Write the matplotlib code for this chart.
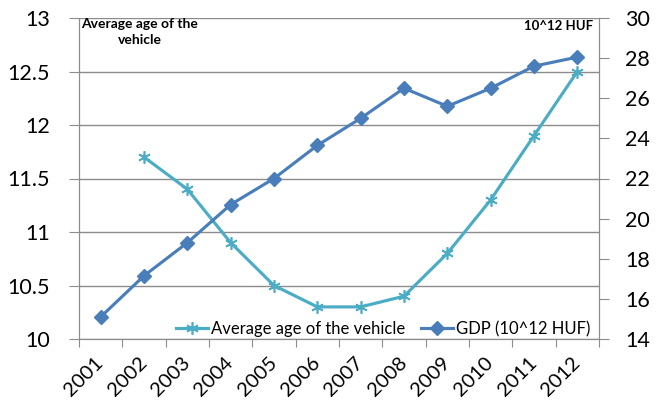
import matplotlib
matplotlib.use("Agg")
import matplotlib.pyplot as plt
import numpy as np

years = ["2001", "2002", "2003", "2004", "2005", "2006", "2007", "2008", "2009", "2010", "2011", "2012"]
gdp = [15.1, 17.15, 18.8, 20.7, 22.0, 23.65, 25.0, 26.5, 25.6, 26.5, 27.6, 28.05]
age_years_idx = [1, 2, 3, 4, 5, 6, 7, 8, 9, 10, 11]
avg_age = [11.7, 11.4, 10.9, 10.5, 10.3, 10.3, 10.4, 10.8, 11.3, 11.9, 12.5]

left_ticks = [10, 10.5, 11, 11.5, 12, 12.5, 13]
left_labels = ["10", "10.5", "11", "11.5", "12", "12.5", "13"]
right_ticks = [14, 16, 18, 20, 22, 24, 26, 28, 30]

plt.rcParams['font.family'] = ['Lato', 'DejaVu Sans']

BLUE = "#4A7EBB"
CYAN = "#4BACC6"
GRID = "#8C8C8C"

fig = plt.figure(figsize=(6.59, 4.05), dpi=100)
ax = fig.add_axes([79/659, 1-339/405, 520/659, 321/405])
ax2 = ax.twinx()

n = len(years)
ax.set_xlim(0, n)
ax.set_ylim(10, 13)
ax2.set_ylim(14, 30)

centers = np.arange(n) + 0.5
l1, = ax.plot(centers[age_years_idx], avg_age, color=CYAN, lw=2.25,
              marker=(6, 2, 0), ms=9, mew=1.2, mec=CYAN, zorder=3,
              label="Average age of the vehicle")
l2, = ax2.plot(centers, gdp, color=BLUE, lw=2.25, marker='D', ms=7,
               mfc=BLUE, mec=BLUE, zorder=3, label="GDP (10^12 HUF)")

ax.set_yticks(left_ticks)
ax.set_yticklabels(left_labels)
ax2.set_yticks(right_ticks)
ax.grid(axis='y', color=GRID, lw=1)
ax.set_axisbelow(True)

ax.set_xticks(np.arange(n + 1))
ax.set_xticklabels([])
ax.set_xticks(centers, minor=True)
ax.set_xticklabels(years, minor=True, rotation=45, ha='right', va='center',
                   rotation_mode='anchor', fontsize=14.5)
ax.tick_params(axis='x', which='minor', length=0, pad=15)
ax.tick_params(axis='x', which='major', length=6, color=GRID, direction='out')
ax.tick_params(axis='y', length=7, color=GRID, labelsize=15.5, pad=14)
ax2.tick_params(axis='y', length=7, color=GRID, labelsize=15.5, pad=12)

for a in (ax, ax2):
    for s in a.spines.values():
        s.set_color(GRID)
    a.spines['top'].set_visible(False)

fig.text(140/659, 1-32/405, "Average age of the\nvehicle", ha='center', va='center',
         fontsize=10, fontweight='bold', linespacing=1.3)
fig.text(593/659, 1-26/405, "10^12 HUF", ha='right', va='center',
         fontsize=9.5, fontweight='bold')

leg = ax.legend(handles=[l1, l2], ncol=2, frameon=False, fontsize=12,
                loc='center right', bbox_to_anchor=(590/659, 1-329/405),
                bbox_transform=fig.transFigure, handlelength=1.9,
                handletextpad=0.15, columnspacing=1.0, borderpad=0,
                borderaxespad=0)

fig.savefig("out.png", dpi=100)
